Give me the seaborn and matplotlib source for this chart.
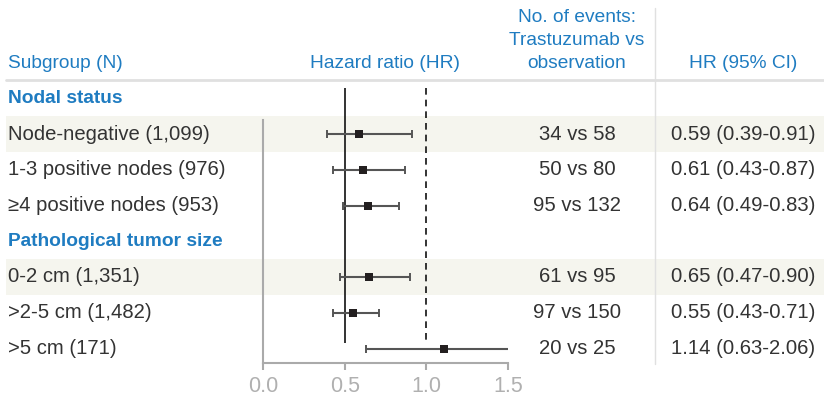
import matplotlib
matplotlib.use("Agg")
import matplotlib.pyplot as plt
import seaborn as sns
import pandas as pd
import numpy as np

# ---------------- data ----------------
group_titles = ["Nodal status", "Pathological tumor size"]
subgroups = ["Node-negative (1,099)", "1-3 positive nodes (976)", "\u22654 positive nodes (953)",
             "0-2 cm (1,351)", ">2-5 cm (1,482)", ">5 cm (171)"]
subgroup_group = [0, 0, 0, 1, 1, 1]
hr = [0.59, 0.61, 0.64, 0.65, 0.55, 1.11]
ci_low = [0.39, 0.43, 0.49, 0.47, 0.43, 0.63]
ci_high = [0.91, 0.87, 0.83, 0.90, 0.71, 2.06]
events = ["34 vs 58", "50 vs 80", "95 vs 132", "61 vs 95", "97 vs 150", "20 vs 25"]
hr_text = ["0.59 (0.39-0.91)", "0.61 (0.43-0.87)", "0.64 (0.49-0.83)",
           "0.65 (0.47-0.90)", "0.55 (0.43-0.71)", "1.14 (0.63-2.06)"]
shaded_rows = [0, 3]
x_ticks = [0.0, 0.5, 1.0, 1.5]
x_tick_labels = ["0.0", "0.5", "1.0", "1.5"]
x_max = 1.5

# ---------------- styling ----------------
sns.set_theme(style="white")
plt.rcParams["font.family"] = ["Liberation Sans", "DejaVu Sans"]
BLUE = "#1f7cc1"
TXT = "#333333"
GRAY = "#aaaaaa"
BAND = "#f5f5ee"
FS = 13.8
FS_ROW = 14.6

W, H = 824, 403
fig = plt.figure(figsize=(W / 100, H / 100), dpi=100)
fig.patch.set_facecolor("white")

row_h = 35.75
row0_px = 98.25
def r_of(px):
    return (px - row0_px) / row_h

rows = []
pos = 0
sub_pos = []
for g, title in enumerate(group_titles):
    rows.append(("title", title, pos))
    pos += 1
    for i, sg in enumerate(subgroups):
        if subgroup_group[i] == g:
            sub_pos.append(pos)
            pos += 1

df = pd.DataFrame({"label": subgroups, "hr": hr, "lo": ci_low, "hi": ci_high,
                   "events": events, "hrtxt": hr_text, "y": sub_pos})

# background axes spanning the whole figure
bg = fig.add_axes([0, 0, 1, 1])
bg.set_xlim(0, W)
bg.set_ylim(r_of(H), r_of(0))
bg.axis("off")
bg.set_zorder(0)

for k in shaded_rows:
    y = df.y[k]
    bg.axhspan(y - 0.5, y + 0.5, xmin=6 / W, xmax=1, color=BAND, lw=0, zorder=0)
bg.axhline(r_of(80), xmin=6 / W, xmax=1, color="#e0e0e0", lw=2, zorder=1)
bg.axvline(655, ymin=1 - 364 / H, ymax=1 - 8 / H, color="#e0e0e0", lw=1, zorder=1)

# headers
hy = r_of(63)
bg.text(8, hy, "Subgroup (N)", color=BLUE, fontsize=FS, ha="left", va="center")
bg.text(385.5, hy, "Hazard ratio (HR)", color=BLUE, fontsize=FS, ha="center", va="center")
for t, py in zip(["No. of events:", "Trastuzumab vs", "observation"], [17, 40.5, 63]):
    bg.text(577, r_of(py), t, color=BLUE, fontsize=FS, ha="center", va="center")
bg.text(743, hy, "HR (95% CI)", color=BLUE, fontsize=FS, ha="center", va="center")

for kind, title, p in rows:
    bg.text(8, p, title, color=BLUE, fontsize=FS, fontweight="bold", ha="left", va="center")
for _, row in df.iterrows():
    bg.text(8, row.y, row.label, color=TXT, fontsize=FS_ROW, ha="left", va="center")
    bg.text(577, row.y, row.events, color=TXT, fontsize=FS_ROW, ha="center", va="center")
    bg.text(743, row.y, row.hrtxt, color=TXT, fontsize=FS_ROW, ha="center", va="center")

# forest axes
ax = fig.add_axes([263 / W, 1 - 363 / H, 245 / W, (363 - 88) / H])
ax.set_zorder(2)
ax.patch.set_alpha(0)
ax.set_xlim(0, x_max)
ax.set_ylim(r_of(363), r_of(88))

ax.vlines(0.5, r_of(88), r_of(343), color="#111111", lw=1.2, zorder=1)
ax.vlines(1.0, r_of(88), r_of(343), color="#111111", lw=1.2, linestyles=(0, (4, 3)), zorder=1)

for _, row in df.iterrows():
    hi = min(row.hi, x_max)
    ax.hlines(row.y, row.lo, hi, color="#555555", lw=1.5, zorder=2)
    ax.plot([row.lo], [row.y], marker="|", ms=6, mew=1.4, color="#555555", zorder=2)
    if row.hi <= x_max:
        ax.plot([row.hi], [row.y], marker="|", ms=6, mew=1.4, color="#555555", zorder=2)

sns.scatterplot(data=df, x="hr", y="y", marker="s", s=40, color="#231f20",
                linewidth=0, ax=ax, zorder=4, legend=False)

for s in ["top", "right"]:
    ax.spines[s].set_visible(False)
for s in ["left", "bottom"]:
    ax.spines[s].set_color(GRAY)
    ax.spines[s].set_linewidth(1.5)
ax.spines["left"].set_bounds(r_of(120), r_of(363))
ax.set_yticks([])
ax.set_xticks(x_ticks)
ax.set_xticklabels(x_tick_labels)
ax.tick_params(axis="x", colors=GRAY, labelcolor="#b0b0b0", labelsize=15.5,
               length=5, width=1.5, direction="out", pad=4, bottom=True)
ax.set_xlabel("")
ax.set_ylabel("")

fig.savefig("out.png", dpi=100, facecolor="white")
